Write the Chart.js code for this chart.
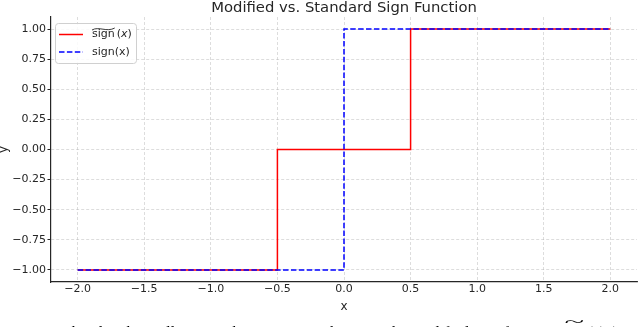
<!DOCTYPE html>
<html>
<head>
<meta charset="utf-8">
<script src="https://cdn.jsdelivr.net/npm/chart.js@4.4.1/dist/chart.umd.min.js"></script>
<style>
  html, body { margin: 0; padding: 0; background: #fff; overflow: hidden; }
  #wrap { position: relative; width: 640px; height: 327px; overflow: hidden; }
  #chart { position: absolute; left: 0; top: 0; }
  #caption {
    position: absolute; left: 0; top: 325px; width: 700px;
    font: 16px/16px "Liberation Serif", "Times New Roman", serif;
    color: #000; white-space: nowrap;
  }
  .wt { position: relative; display: inline-block; }
  .wt::before {
    content: "~"; position: absolute; left: 0; right: 0; top: -10px;
    text-align: center; transform: scaleX(2.6); font-size: 14px;
  }
</style>
</head>
<body>
<div id="wrap">
  <canvas id="chart" width="640" height="327"></canvas>
  <div id="caption">Figure 1: The plot above illustrates the comparison between the modified sign function <span class="wt">sign</span>(<i>x</i>) (</div>
</div>
<script>
  // modified sign: -1 below -0.5, 0 in between, 1 above 0.5
  const modX = [-2, -0.5, 0.5, 2];
  const modY = [-1, 0, 1, 1];
  // standard sign: -1 below 0, 1 above
  const stdX = [-2, 0, 2];
  const stdY = [-1, 1, 1];

  const xTicks = [-2, -1.5, -1, -0.5, 0, 0.5, 1, 1.5, 2];
  const yTicks = [-1, -0.75, -0.5, -0.25, 0, 0.25, 0.5, 0.75, 1];

  const INK = "#262626";
  const FONT = "'DejaVu Sans', sans-serif";
  // each value holds until the next x, then jumps
  const steps = (xs, ys) => {
    const out = [];
    xs.forEach((x, i) => {
      if (i > 0) out.push({ x, y: ys[i - 1] });
      out.push({ x, y: ys[i] });
    });
    return out;
  };
  const minus = (s) => s.replace("-", "\u2212");

  const grid = {
    color: "rgba(176,176,176,0.55)", lineWidth: 0.8,
    tickLength: 3.5, tickColor: INK, tickWidth: 1,
  };
  const border = { color: INK, width: 1.2, dash: [3, 2] };

  // title drawn by hand so the plot box keeps its place
  const titlePlugin = {
    id: "plotTitle",
    afterDraw(chart) {
      const { ctx, chartArea: a } = chart;
      ctx.save();
      ctx.font = "14.8px " + FONT;
      ctx.fillStyle = INK;
      ctx.textAlign = "center";
      ctx.textBaseline = "middle";
      ctx.fillText("Modified vs. Standard Sign Function", (a.left + a.right) / 2, 8);
      ctx.restore();
    },
  };

  // matplotlib-like legend in the upper left of the axes
  const legendPlugin = {
    id: "boxLegend",
    afterDatasetsDraw(chart) {
      const { ctx, chartArea: a } = chart;
      const x = a.left + 4, y = a.top + 6, w = 81, h = 40;
      ctx.save();
      ctx.fillStyle = "rgba(255,255,255,0.85)";
      ctx.strokeStyle = "#d0d0d0";
      ctx.lineWidth = 1;
      ctx.beginPath();
      ctx.roundRect(x + 0.5, y + 0.5, w, h, 3);
      ctx.fill();
      ctx.stroke();

      const rows = [
        { y: y + 11.5, color: "#ff0000", dash: [], tilde: true },
        { y: y + 29, color: "#0000ff", dash: [5.5, 2.4], tilde: false },
      ];
      rows.forEach((r) => {
        ctx.strokeStyle = r.color;
        ctx.lineWidth = 1.5;
        ctx.setLineDash(r.dash);
        ctx.beginPath();
        ctx.moveTo(x + 4, r.y);
        ctx.lineTo(x + 28, r.y);
        ctx.stroke();
        ctx.setLineDash([]);

        ctx.fillStyle = INK;
        ctx.textBaseline = "middle";
        ctx.textAlign = "left";
        let tx = x + 37;
        ctx.font = "11px " + FONT;
        ctx.fillText("sign", tx, r.y);
        const sw = ctx.measureText("sign").width;
        if (r.tilde) {
          const ty = r.y - 5.5;
          ctx.strokeStyle = INK;
          ctx.lineWidth = 0.9;
          ctx.beginPath();
          ctx.moveTo(tx, ty + 1);
          ctx.bezierCurveTo(tx + sw * 0.3, ty - 3, tx + sw * 0.65, ty + 3.5, tx + sw, ty - 1);
          ctx.stroke();
          tx += sw + 2;
          ctx.fillText("(", tx, r.y);
          tx += ctx.measureText("(").width;
          ctx.font = "italic 11px " + FONT;
          ctx.fillText("x", tx, r.y);
          tx += ctx.measureText("x").width;
          ctx.font = "11px " + FONT;
          ctx.fillText(")", tx, r.y);
        } else {
          ctx.fillText("(x)", tx + sw, r.y);
        }
      });
      ctx.restore();
    },
  };

  new Chart(document.getElementById("chart"), {
    type: "scatter",
    data: {
      datasets: [
        {
          label: "sign~(x)", data: steps(modX, modY), showLine: true,
          borderColor: "#ff0000", borderWidth: 1.5, pointRadius: 0, order: 1,
        },
        {
          label: "sign(x)", data: steps(stdX, stdY), showLine: true,
          borderColor: "#0000ff", borderWidth: 1.5, borderDash: [5.5, 2.4], pointRadius: 0, order: 0,
        },
      ],
    },
    options: {
      responsive: false, animation: false,
      layout: { padding: { top: 17, right: 3, bottom: 13.3, left: 0 } },
      plugins: { legend: { display: false }, title: { display: false }, tooltip: { enabled: false } },
      scales: {
        x: {
          type: "linear", min: -2.2, max: 2.2,
          afterBuildTicks: (s) => { s.ticks = xTicks.map((v) => ({ value: v })); },
          afterFit: (s) => { s.height = 31.7; },
          grid: { ...grid, drawTicks: false }, border,
          ticks: { color: INK, font: { family: FONT, size: 11 }, padding: 0.5, maxRotation: 0,
            callback: (v) => minus(Number(v).toFixed(1)) },
          title: { display: true, text: "x", color: INK, font: { family: FONT, size: 12 }, padding: 0 },
        },
        y: {
          type: "linear", min: -1.1, max: 1.1,
          afterBuildTicks: (s) => { s.ticks = yTicks.map((v) => ({ value: v })); },
          afterFit: (s) => { s.width = 51; },
          grid, border,
          ticks: { color: INK, font: { family: FONT, size: 11 }, padding: 1.5,
            callback: (v) => minus(Number(v).toFixed(2)) },
          title: { display: true, text: "y", color: INK, font: { family: FONT, size: 12 }, padding: { top: -3, bottom: 0 } },
        },
      },
    },
    plugins: [titlePlugin, legendPlugin],
  });
</script>
</body>
</html>
